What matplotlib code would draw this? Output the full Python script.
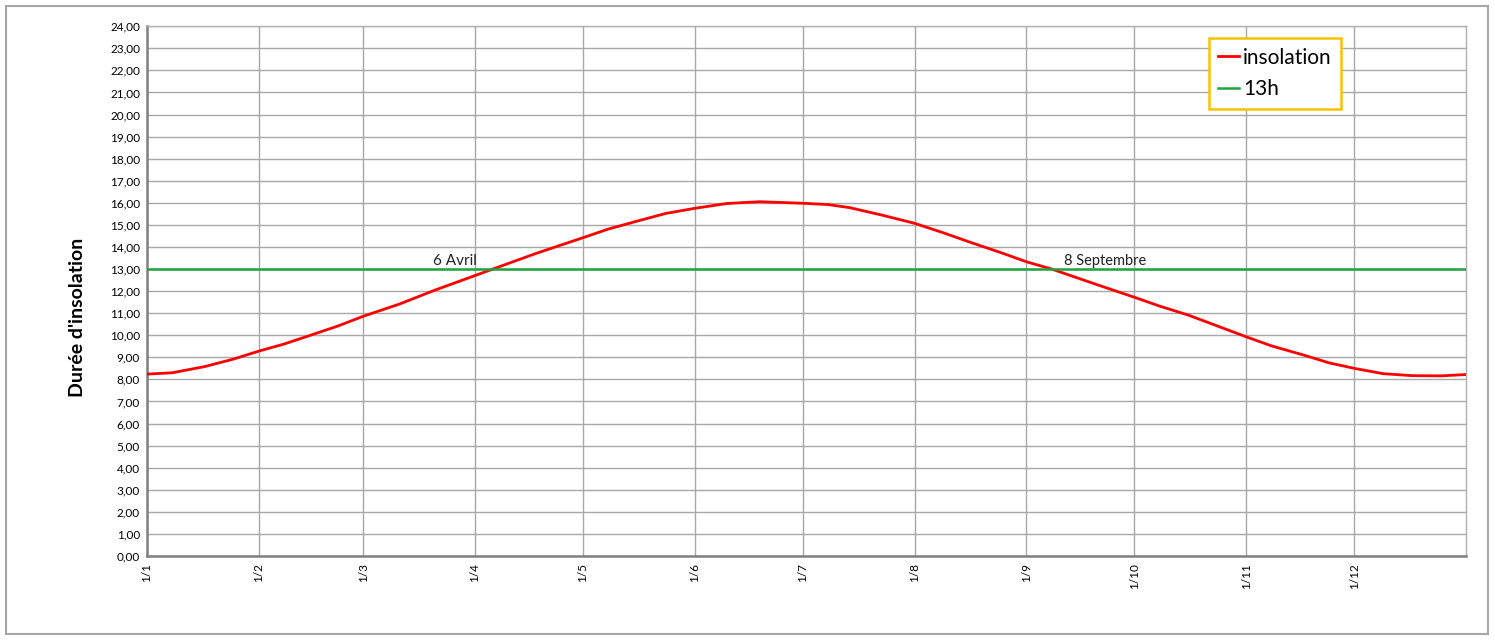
import matplotlib.pyplot as plt
from matplotlib.patches import Rectangle

# jour de l'annee (annee bissextile, 0 = 1er janvier) et duree d'insolation
days = [0, 7, 16, 24, 31, 38, 45, 53, 60, 70, 80, 96, 108, 121, 128, 136, 144, 152, 161, 170,
        182, 189, 195, 204, 213, 221, 229, 237, 244, 251, 264, 274, 281, 289, 297, 305, 312,
        321, 328, 335, 343, 351, 359, 366]
insolation = [8.24, 8.30, 8.58, 8.92, 9.28, 9.60, 9.98, 10.42, 10.86, 11.41, 12.05, 13.00, 13.71,
              14.42, 14.81, 15.17, 15.52, 15.75, 15.97, 16.05,
              15.98, 15.92, 15.78, 15.44, 15.07, 14.64, 14.18, 13.74, 13.33, 13.00, 12.27, 11.72,
              11.32, 10.91, 10.42, 9.93, 9.52,
              9.10, 8.75, 8.50, 8.26, 8.17, 8.16, 8.22]
seuil = 13.0

month_days = [0, 31, 60, 91, 121, 152, 182, 213, 244, 274, 305, 335]
month_labels = ["1/1", "1/2", "1/3", "1/4", "1/5", "1/6", "1/7", "1/8", "1/9", "1/10", "1/11", "1/12"]
yticks = list(range(0, 25))

plt.rcParams['font.family'] = ['Lato', 'DejaVu Sans']

fig = plt.figure(figsize=(14.95, 6.4), dpi=100)
ax = fig.add_axes([0.0983, 0.13125, 0.8823, 0.8278])

# cadre exterieur
fig.patches.append(Rectangle((6 / 1495, 6 / 640), 1482 / 1495, 628 / 640, transform=fig.transFigure,
                             fill=False, edgecolor='#a6a6a6', linewidth=1.5))

ax.plot(days, insolation, color='#ff0000', linewidth=2.0, label='insolation', zorder=3,
        solid_joinstyle='round')
ax.plot([0, 366], [seuil, seuil], color='#21a33f', linewidth=1.8, label='13h', zorder=3)

ax.text(79.5, 13.05, '6 Avril', fontsize=11, color='#222222', va='bottom', ha='left')
ax.text(254.5, 13.05, '8 Septembre', fontsize=10.5, color='#222222', va='bottom', ha='left')

ax.set_xlim(0, 366)
ax.set_ylim(0, 24)
ax.set_xticks(month_days)
ax.set_xticklabels(month_labels, rotation=90, fontsize=8.5)
ax.set_yticks(yticks)
ax.set_yticklabels([f"{v},00" for v in yticks], fontsize=8.5)
ax.tick_params(axis='both', length=0, pad=5)

ax.grid(True, color='#a8a8a8', linewidth=1.0)
ax.set_axisbelow(True)
for side in ['top', 'right']:
    ax.spines[side].set_color('#b0b0b0')
    ax.spines[side].set_linewidth(1.0)
for side in ['left', 'bottom']:
    ax.spines[side].set_color('#808080')
    ax.spines[side].set_linewidth(1.8)

ax.set_ylabel("Durée d'insolation", fontsize=14, fontweight='bold')
ax.yaxis.set_label_coords(-0.046, 0.45)

leg = ax.legend(loc='upper left', bbox_to_anchor=(0.805, 0.977), borderaxespad=0, fontsize=15,
                frameon=True, fancybox=False, handlelength=1.0, handletextpad=0.2, borderpad=0.45,
                labelspacing=0.55)
leg.get_frame().set_edgecolor('#ffc000')
leg.get_frame().set_linewidth(1.8)
leg.get_frame().set_alpha(1)

fig.savefig('out.png', dpi=100)
